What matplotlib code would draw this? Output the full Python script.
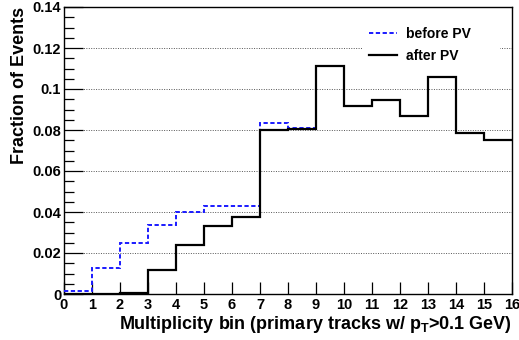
import matplotlib
matplotlib.use("Agg")
import matplotlib.pyplot as plt
from matplotlib.ticker import MultipleLocator, FixedLocator
from matplotlib.lines import Line2D
from matplotlib.patches import Rectangle

plt.rcParams['font.family'] = ['Liberation Sans', 'DejaVu Sans']
plt.rcParams['font.weight'] = 'bold'
plt.rcParams['mathtext.fontset'] = 'custom'
plt.rcParams['mathtext.rm'] = 'Liberation Sans:bold'
plt.rcParams['mathtext.bf'] = 'Liberation Sans:bold'
plt.rcParams['mathtext.it'] = 'Liberation Sans:bold'

bin_edges = list(range(0, 17))
before_pv = [0.0013, 0.0126, 0.0248, 0.0338, 0.0401, 0.0430, 0.0428, 0.0836,
             0.0810, 0.1112, 0.0916, 0.0947, 0.0868, 0.1058, 0.0783, 0.0749]
after_pv = [0.0, 0.0, 0.0007, 0.0118, 0.0240, 0.0330, 0.0376, 0.0799,
            0.0804, 0.1110, 0.0916, 0.0947, 0.0868, 0.1058, 0.0783, 0.0749]
y_ticks = [0, 0.02, 0.04, 0.06, 0.08, 0.1, 0.12, 0.14]
y_tick_labels = ['0', '0.02', '0.04', '0.06', '0.08', '0.1', '0.12', '0.14']
x_ticks = list(range(0, 17))

fig = plt.figure(figsize=(5.19, 3.40), dpi=100)
ax = fig.add_axes([64/519, 1-294/340, 448/519, 287/340])

for yv in y_ticks[1:-1]:
    ax.axhline(yv, color='#555555', lw=0.7, ls=(0, (1, 1.5)), zorder=1)

# white legend pad (legend box has no border but hides the grid)
ax.add_patch(Rectangle((0.667, 0.80), 0.306, 0.16, transform=ax.transAxes,
                       facecolor='white', edgecolor='none', zorder=2))

dash = (0, (2.2, 1.3))
ax.stairs(before_pv, bin_edges, color='#1a1aff', lw=1.4, ls=dash, zorder=3, baseline=None)
ax.stairs(after_pv, bin_edges, color='black', lw=1.6, zorder=4, baseline=None)

ax.set_xlim(0, 16)
ax.set_ylim(0, 0.14)
ax.yaxis.set_major_locator(FixedLocator(y_ticks))
ax.set_yticklabels(y_tick_labels)
ax.yaxis.set_minor_locator(MultipleLocator(0.005))
ax.xaxis.set_major_locator(FixedLocator(x_ticks))
ax.set_xticklabels([str(v) for v in x_ticks])

ax.tick_params(axis='y', which='major', direction='in', length=14, width=0.9, labelsize=10.5, pad=2)
ax.tick_params(axis='y', which='minor', direction='in', length=7, width=0.9)
ax.tick_params(axis='x', which='major', direction='in', length=9, width=0.9, labelsize=10.5, pad=3)
for s in ax.spines.values():
    s.set_linewidth(1.0)

ax.set_xlabel(r'Multiplicity bin (primary tracks w/ p$_{\mathrm{T}}$>0.1 GeV)',
              fontsize=13, fontweight='bold', loc='right', labelpad=1)
ax.set_ylabel('Fraction of Events', fontsize=13, fontweight='bold', loc='top', labelpad=3)

handles = [Line2D([], [], color='#1a1aff', lw=1.4, ls=dash),
           Line2D([], [], color='black', lw=1.6)]
leg = ax.legend(handles, ['before PV', 'after PV'], loc='upper left',
                bbox_to_anchor=(0.654, 0.973), frameon=False, fontsize=10,
                handlelength=2.0, handletextpad=0.6, labelspacing=0.55)
leg.set_zorder(5)

fig.savefig('out.png', dpi=100)
